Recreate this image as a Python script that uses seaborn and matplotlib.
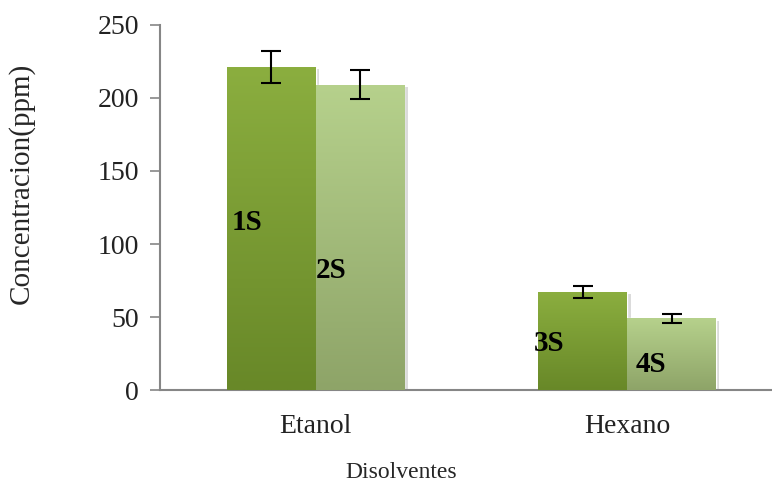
import numpy as np
import pandas as pd
import matplotlib
matplotlib.use("Agg")
import matplotlib.pyplot as plt
import matplotlib.patheffects as pe
import seaborn as sns
from matplotlib.colors import LinearSegmentedColormap

# data
solvents = ["Etanol", "Hexano"]
series = ["A", "B"]
values = [[221, 209], [67, 49]]
errors = [[11, 10], [4, 3.3]]
labels = [["1S", "2S"], ["3S", "4S"]]

# where the sample labels sit (x offset from category, fraction of bar height)
label_dx = [[-0.22, 0.05], [-0.25, 0.075]]
label_frac = [[0.52, 0.39], [0.48, 0.35]]

rows = []
for i, s in enumerate(solvents):
    for j, h in enumerate(series):
        rows.append({"Disolventes": s, "serie": h, "ppm": values[i][j]})
df = pd.DataFrame(rows)

sns.set_theme(style="white")
plt.rcParams["font.family"] = ["Liberation Serif", "DejaVu Serif"]

fig = plt.figure(figsize=(7.72, 4.86), dpi=100)
ax = fig.add_axes([0.207, 0.1975, 0.793, 0.7511])

sns.barplot(data=df, x="Disolventes", y="ppm", hue="serie", order=solvents,
            hue_order=series, palette=["#7c9f35", "#a6c37c"], width=0.57,
            errorbar=None, legend=False, ax=ax, zorder=2)

grad_cols = [("#8bae3f", "#688828"), ("#b6d18c", "#8ea468")]
bar_conts = list(ax.containers)
for j, cont in enumerate(bar_conts):
    cmap = LinearSegmentedColormap.from_list("g%d" % j, grad_cols[j])
    for i, bar in enumerate(cont):
        # soft drop shadow like the office chart
        bar.set_path_effects([
            pe.SimplePatchShadow(offset=(2.5, -1.5), shadow_rgbFace="#9a9a9a", alpha=0.35),
            pe.Normal()])
        x0, y0 = bar.get_x(), bar.get_y()
        w, h = bar.get_width(), bar.get_height()
        grad = np.linspace(0, 1, 256).reshape(-1, 1)
        im = ax.imshow(grad, cmap=cmap, aspect="auto", origin="upper",
                       extent=[x0, x0 + w, y0, y0 + h], zorder=3)
        im.set_clip_path(bar)
        xc = x0 + w / 2
        ax.errorbar(xc, values[i][j], yerr=errors[i][j], fmt="none",
                    ecolor="black", elinewidth=1.5, capsize=7, capthick=1.5,
                    zorder=5)
        ax.text(i + label_dx[i][j], values[i][j] * label_frac[i][j], labels[i][j],
                ha="center", va="center", fontsize=21, fontweight="bold",
                color="black", zorder=6)

ax.set_xlim(-0.5, 1.465)
ax.set_ylim(0, 250)
ax.set_yticks([0, 50, 100, 150, 200, 250])
ax.set_ylabel("Concentracion(ppm)", fontsize=21, va="center")
ax.yaxis.set_label_coords(-0.2255, 0.567)
ax.set_xlabel("Disolventes", fontsize=17, va="center")
ax.xaxis.set_label_coords(0.395, -0.225)
ax.tick_params(axis="y", labelsize=20, length=7, width=1.2, color="#868686",
               direction="out", left=True, pad=8, labelcolor="#222222")
ax.tick_params(axis="x", labelsize=20, length=0, pad=17, labelcolor="#222222")

for side in ["top", "right"]:
    ax.spines[side].set_visible(False)
for side in ["left", "bottom"]:
    ax.spines[side].set_color("#868686")
    ax.spines[side].set_linewidth(1.5)

fig.savefig("out.png", dpi=100)
